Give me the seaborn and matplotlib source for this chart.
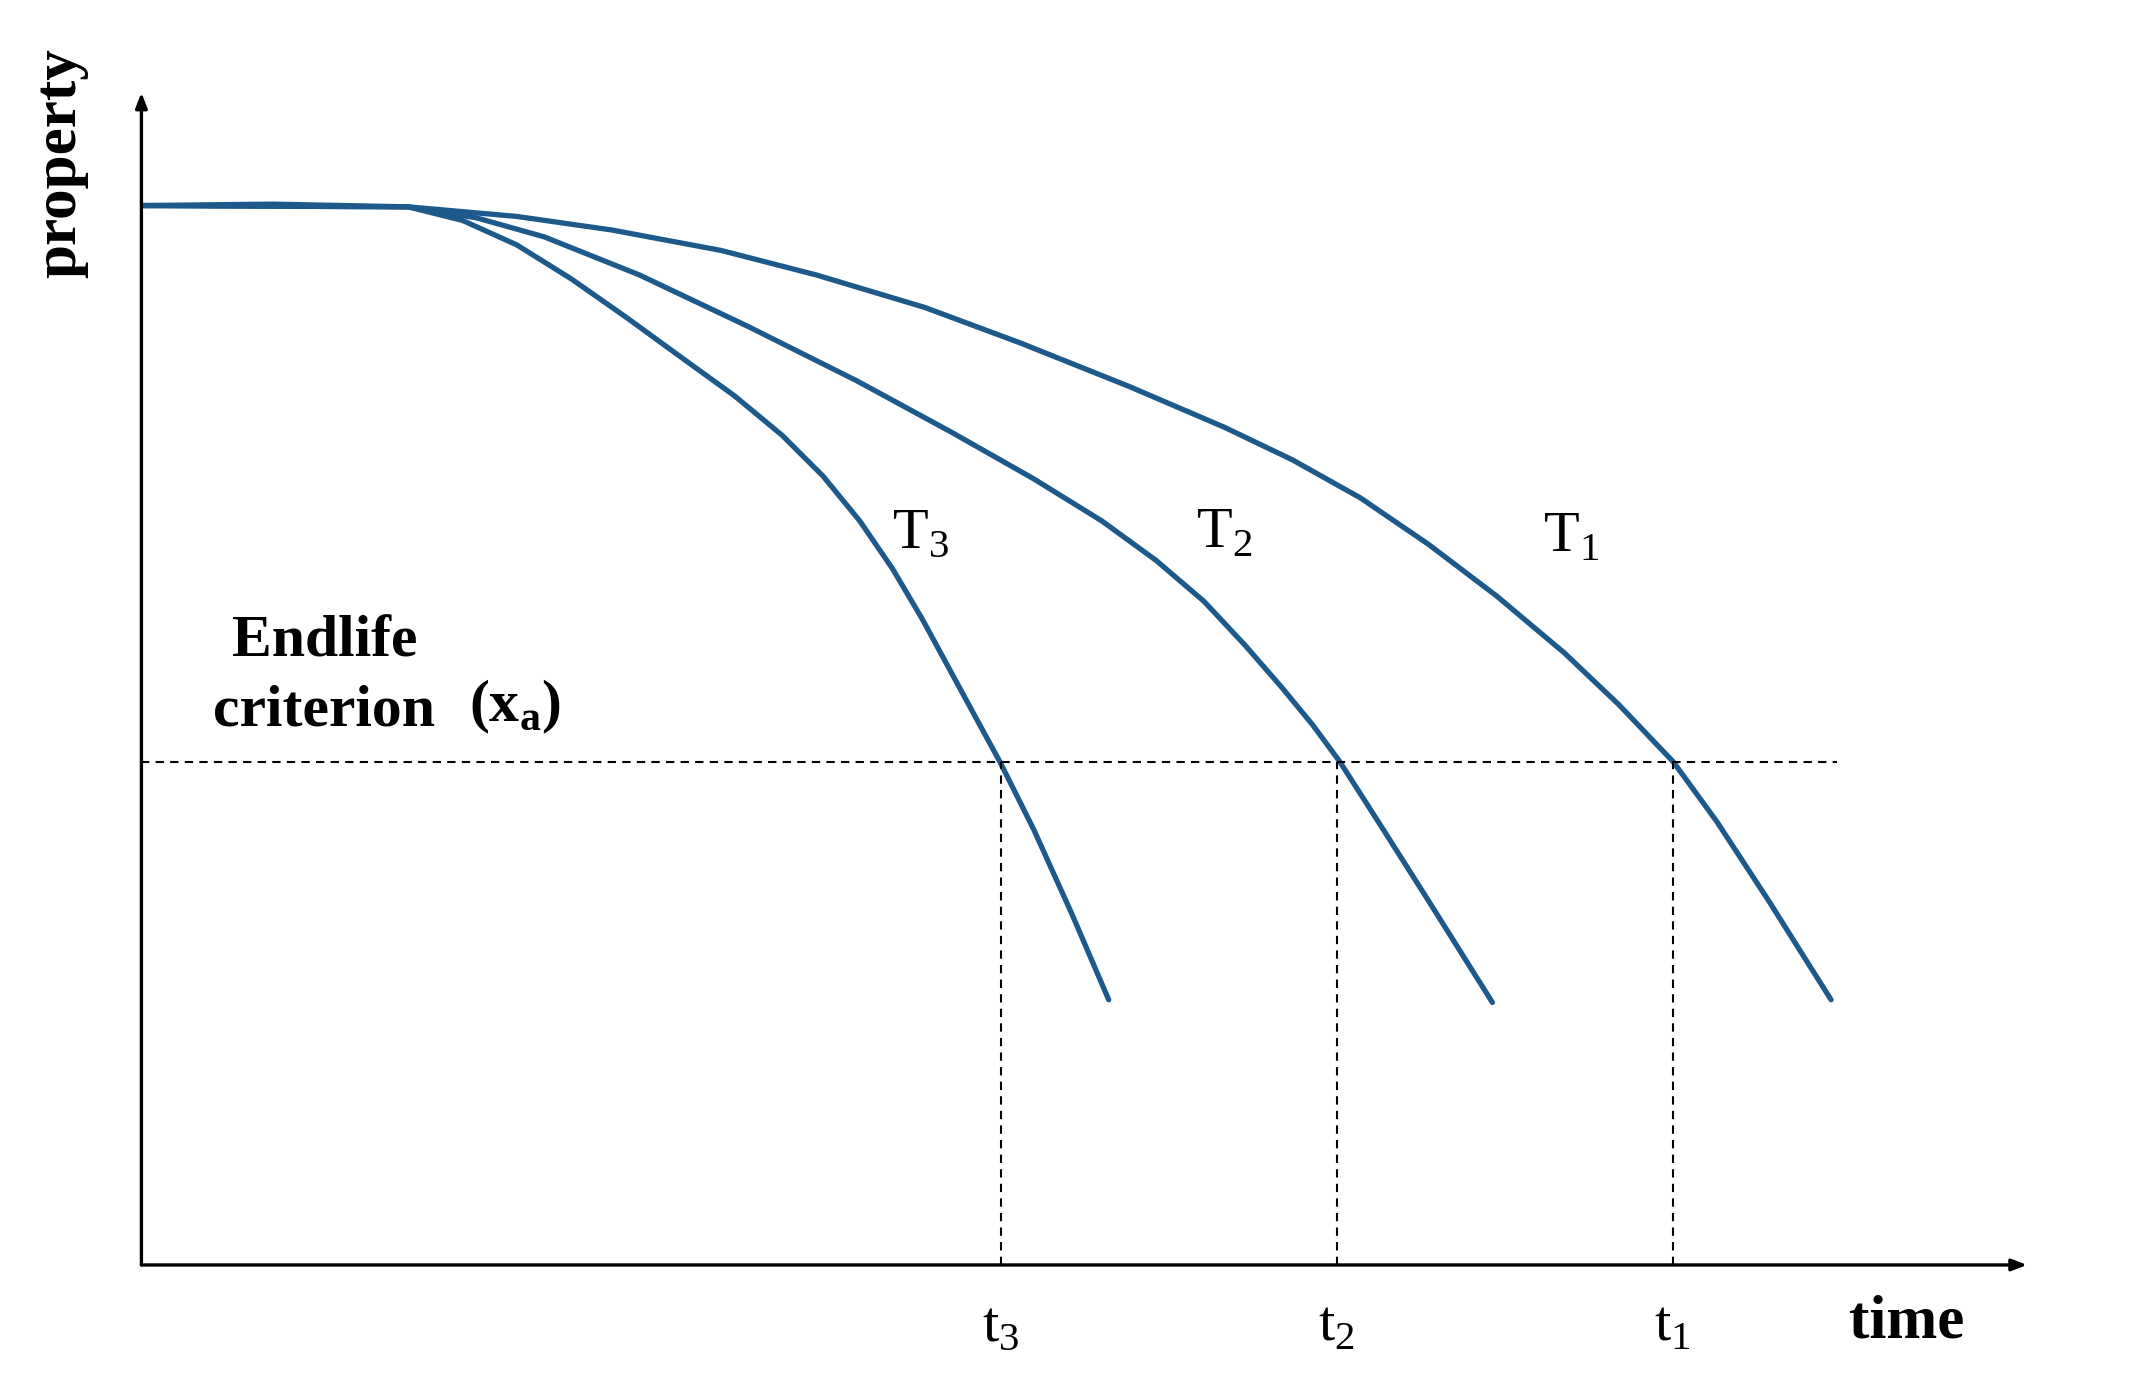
import pandas as pd
import seaborn as sns
import matplotlib.pyplot as plt

sns.set_style("white")
plt.rcParams['font.family'] = ['Liberation Serif', 'DejaVu Serif']
plt.rcParams['text.color'] = 'black'
plt.rcParams['mathtext.fontset'] = 'custom'
plt.rcParams['mathtext.rm'] = 'Liberation Serif'
plt.rcParams['mathtext.bf'] = 'Liberation Serif:bold'

# curve at temperature T3 (fastest ageing)
t3_time = [0, 6.93, 14.14, 17.03, 19.91, 22.80, 25.69, 28.57, 31.46, 33.98, 36.15, 38.10, 39.83,
           41.41, 42.86, 44.23, 45.53, 47.33, 49.35, 51.30]
t3_prop = [90.37, 90.49, 90.26, 89.10, 87.01, 84.11, 80.86, 77.49, 74.13, 70.77, 67.29, 63.46, 59.40,
           55.10, 50.81, 46.75, 42.92, 37.12, 29.93, 22.62]

# curve at temperature T2
t2_time = [0, 14.14, 17.75, 21.36, 26.41, 32.18, 37.95, 43.00, 47.33, 50.94, 53.82, 56.35, 58.51,
           60.46, 62.12, 63.56, 65.73, 68.25, 71.65]
t2_prop = [90.37, 90.26, 89.33, 87.70, 84.45, 80.05, 75.41, 71.00, 67.05, 63.46, 60.09, 56.61, 52.90,
           49.30, 46.06, 42.92, 37.47, 31.09, 22.39]

# curve at temperature T1 (slowest ageing)
t1_time = [0, 14.14, 19.91, 24.96, 30.74, 35.79, 41.56, 46.61, 52.38, 57.43, 61.04, 64.65, 68.25,
           71.86, 75.47, 78.35, 81.24, 83.55, 86.29, 89.61]
t1_prop = [90.37, 90.26, 89.44, 88.28, 86.54, 84.45, 81.67, 78.65, 74.94, 71.46, 68.68, 65.43, 61.48,
           57.08, 52.20, 47.80, 42.92, 37.82, 31.09, 22.62]

# endlife criterion and the lifetimes where each curve crosses it
criterion = 42.92
crit_end = 89.9
life_times = [45.6, 63.4, 81.2]
life_labels = [r'$\mathrm{t}_\mathrm{3}$', r'$\mathrm{t}_\mathrm{2}$', r'$\mathrm{t}_\mathrm{1}$']
curve_labels = [r'$\mathrm{T}_\mathrm{3}$', r'$\mathrm{T}_\mathrm{2}$', r'$\mathrm{T}_\mathrm{1}$']
curve_label_x = [41.3, 57.4, 75.8]
curve_label_y = [62.4, 62.4, 62.1]

df = pd.concat([
    pd.DataFrame({"time": t3_time, "property": t3_prop, "curve": "T3"}),
    pd.DataFrame({"time": t2_time, "property": t2_prop, "curve": "T2"}),
    pd.DataFrame({"time": t1_time, "property": t1_prop, "curve": "T1"}),
])

blue = "#1d5a8b"
fig = plt.figure(figsize=(21.33, 13.89), dpi=100)
ax = fig.add_axes([0.0663, 0.0893, 0.884, 0.844])

sns.lineplot(data=df, x="time", y="property", hue="curve", sort=False,
             palette=[blue, blue, blue], linewidth=3.8, legend=False, ax=ax)
for line in ax.lines:
    line.set_solid_joinstyle("round")
    line.set_solid_capstyle("round")

# dashed guide lines
ax.plot([0, crit_end], [criterion, criterion], color="black", lw=1.5, ls=(0, (4, 3)))
for lt in life_times:
    ax.plot([lt, lt], [0, criterion], color="black", lw=1.5, ls=(0, (4, 3)))

ax.set_xlim(0, 100)
ax.set_ylim(0, 100)
for s in ax.spines.values():
    s.set_visible(False)
ax.set_xticks([])
ax.set_yticks([])
ax.set_xlabel("")
ax.set_ylabel("")

# axes with arrow heads
arrow = dict(arrowstyle="-|>,head_length=0.9,head_width=0.35", color="black", lw=2.4,
             shrinkA=0, shrinkB=0)
ax.annotate("", xy=(100, 0), xytext=(0, 0), arrowprops=arrow, annotation_clip=False)
ax.annotate("", xy=(0, 100), xytext=(0, 0), arrowprops=arrow, annotation_clip=False)

# labels
ax.text(-4.3, 94.0, "property", rotation=90, ha="center", va="center",
        fontsize=44, fontweight="bold", clip_on=False)
ax.text(93.6, -4.9, "time", ha="center", va="center", fontsize=44, fontweight="bold", clip_on=False)
for lt, lab in zip(life_times, life_labels):
    ax.text(lt, -5.2, lab, ha="center", va="center", fontsize=42, clip_on=False)
for x, y, lab in zip(curve_label_x, curve_label_y, curve_labels):
    ax.text(x, y, lab, ha="center", va="center", fontsize=42)

ax.text(9.7, 53.1, "Endlife", ha="center", va="center", fontsize=43, fontweight="bold")
ax.text(9.7, 47.2, "criterion", ha="center", va="center", fontsize=43, fontweight="bold")
ax.text(19.8, 47.6, r"(x$_\mathbf{a}$)", ha="center", va="center", fontsize=43, fontweight="bold")

fig.savefig("out.png", dpi=100)
